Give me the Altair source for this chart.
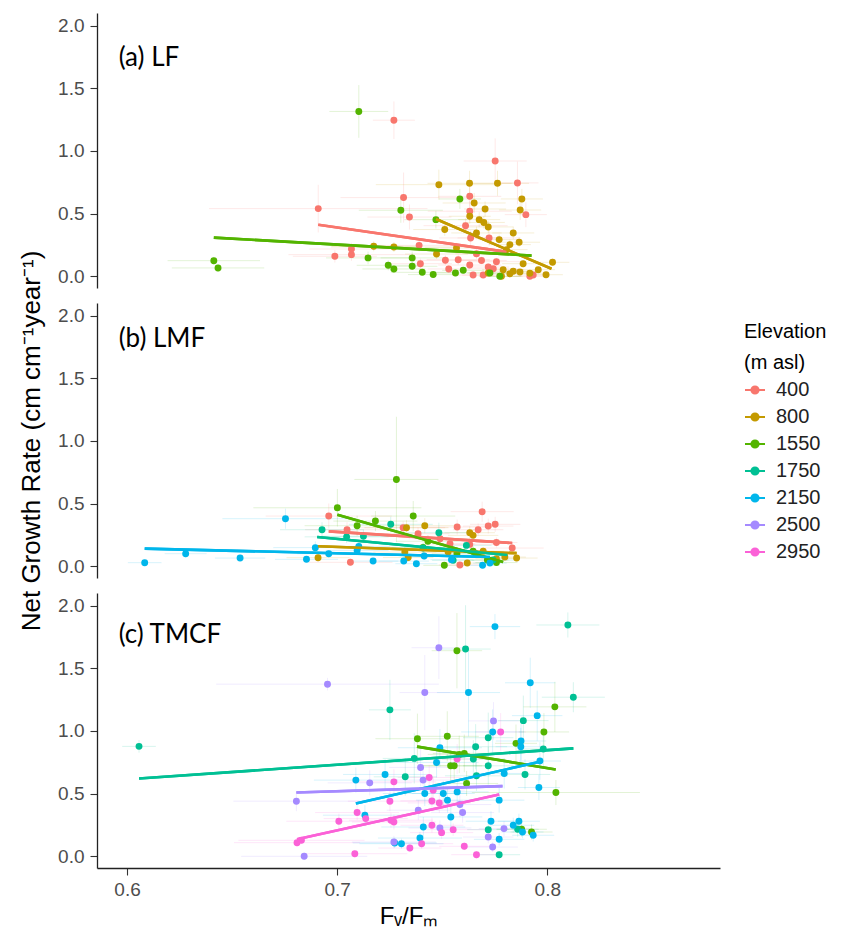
import altair as alt
import pandas as pd

ELEVATIONS = ["400", "800", "1550", "1750", "2150", "2500", "2950"]
COLORS = ["#F8766D", "#C49A00", "#53B400", "#00C094", "#00B6EB", "#A58AFF", "#FB61D7"]
TICKS_X = [0.6, 0.7, 0.8]
TICKS_Y = [0.0, 0.5, 1.0, 1.5, 2.0]
PANEL_IDS = ["a", "b", "c"]
PANEL_LABELS = ["(a) LF", "(b) LMF", "(c) TMCF"]
LABEL_X = 0.596
LABEL_Y = [1.742, 1.81, 1.765]

# ---------------- panel (a) LF ----------------
A_400_X = [0.727, 0.7752, 0.7858, 0.691, 0.7316, 0.7344, 0.7631, 0.7631, 0.7611, 0.7898, 0.7635, 0.7723, 0.6989, 0.7068, 0.7068, 0.739, 0.7396, 0.7515, 0.7531, 0.7576, 0.7663, 0.7687, 0.7719, 0.7743, 0.7631, 0.7647, 0.7695, 0.7758, 0.7917, 0.7933]
A_400_Y = [1.245, 0.92, 0.745, 0.54, 0.628, 0.473, 0.638, 0.519, 0.404, 0.492, 0.306, 0.306, 0.16, 0.218, 0.173, 0.247, 0.101, 0.128, 0.059, 0.133, 0.18, 0.127, 0.074, 0.06, 0.09, 0.01, 0.01, 0.117, 0.0, 0.01]
A_400_XERR = [0.01, 0.015, 0.01, 0.052, 0.03, 0.02, 0.015, 0.02, 0.02, 0.01, 0.015, 0.015, 0.02, 0.02, 0.03, 0.02, 0.015, 0.015, 0.01, 0.015, 0.01, 0.012, 0.01, 0.012, 0.015, 0.01, 0.01, 0.012, 0.008, 0.008]
A_400_YERR = [0.15, 0.18, 0.17, 0.19, 0.2, 0.1, 0.08, 0.08, 0.06, 0.1, 0.06, 0.06, 0.05, 0.05, 0.05, 0.05, 0.04, 0.04, 0.03, 0.04, 0.04, 0.03, 0.03, 0.02, 0.03, 0.02, 0.02, 0.03, 0.02, 0.02]

A_800_X = [0.7484, 0.763, 0.7763, 0.7879, 0.7871, 0.7652, 0.7704, 0.7631, 0.7676, 0.7698, 0.7719, 0.7512, 0.7838, 0.7663, 0.7771, 0.7866, 0.7822, 0.7473, 0.7568, 0.7174, 0.727, 0.7806, 0.8025, 0.7885, 0.7957, 0.7994, 0.7719, 0.779, 0.7838, 0.787, 0.7917, 0.7782, 0.7822]
A_800_Y = [0.731, 0.742, 0.742, 0.617, 0.529, 0.585, 0.537, 0.479, 0.452, 0.43, 0.394, 0.373, 0.346, 0.346, 0.293, 0.272, 0.253, 0.178, 0.226, 0.24, 0.234, 0.213, 0.112, 0.101, 0.053, 0.013, 0.027, 0.053, 0.04, 0.035, 0.025, 0.0, 0.02]
A_800_XERR = [0.03, 0.02, 0.015, 0.01, 0.01, 0.015, 0.01, 0.01, 0.01, 0.01, 0.012, 0.015, 0.01, 0.012, 0.01, 0.01, 0.01, 0.015, 0.015, 0.02, 0.03, 0.01, 0.008, 0.01, 0.008, 0.008, 0.01, 0.01, 0.01, 0.01, 0.008, 0.01, 0.01]
A_800_YERR = [0.12, 0.1, 0.1, 0.08, 0.08, 0.08, 0.06, 0.06, 0.06, 0.05, 0.05, 0.05, 0.05, 0.05, 0.04, 0.04, 0.04, 0.04, 0.04, 0.04, 0.04, 0.03, 0.03, 0.03, 0.02, 0.02, 0.02, 0.02, 0.02, 0.02, 0.02, 0.02, 0.02]

A_1550_X = [0.7103, 0.6413, 0.6433, 0.7303, 0.7584, 0.747, 0.7147, 0.7243, 0.727, 0.7357, 0.7357, 0.7405, 0.7457, 0.7563, 0.76, 0.7727, 0.7774]
A_1550_Y = [1.315, 0.125, 0.067, 0.527, 0.617, 0.452, 0.147, 0.088, 0.059, 0.147, 0.08, 0.032, 0.014, 0.027, 0.048, 0.027, 0.0]
A_1550_XERR = [0.014, 0.022, 0.022, 0.02, 0.01, 0.015, 0.02, 0.015, 0.015, 0.015, 0.012, 0.015, 0.012, 0.01, 0.01, 0.01, 0.01]
A_1550_YERR = [0.21, 0.03, 0.03, 0.1, 0.08, 0.07, 0.05, 0.04, 0.03, 0.05, 0.03, 0.02, 0.02, 0.02, 0.02, 0.02, 0.02]

# ---------------- panel (b) LMF ----------------
B_400_X = [0.696, 0.769, 0.7752, 0.7719, 0.7571, 0.7671, 0.7047, 0.7063, 0.7584, 0.7833, 0.7314, 0.7385, 0.749, 0.7537, 0.7631, 0.7758]
B_400_Y = [0.401, 0.436, 0.335, 0.321, 0.313, 0.292, 0.292, 0.032, 0.011, 0.146, 0.308, 0.26, 0.22, 0.18, 0.175, 0.19]
B_400_XERR = [0.03, 0.015, 0.012, 0.012, 0.015, 0.012, 0.02, 0.02, 0.01, 0.015, 0.02, 0.015, 0.015, 0.012, 0.012, 0.01]
B_400_YERR = [0.1, 0.08, 0.06, 0.06, 0.06, 0.05, 0.06, 0.03, 0.02, 0.04, 0.05, 0.05, 0.04, 0.04, 0.04, 0.04]

B_800_X = [0.6909, 0.733, 0.7417, 0.7631, 0.7647, 0.7322, 0.7338, 0.7619, 0.7758, 0.7798, 0.7854, 0.7528, 0.7695]
B_800_Y = [0.069, 0.308, 0.324, 0.268, 0.247, 0.114, 0.07, 0.026, 0.061, 0.074, 0.066, 0.114, 0.12]
B_800_XERR = [0.015, 0.02, 0.015, 0.012, 0.012, 0.015, 0.012, 0.01, 0.01, 0.01, 0.01, 0.012, 0.01]
B_800_YERR = [0.03, 0.06, 0.06, 0.05, 0.05, 0.04, 0.03, 0.02, 0.02, 0.02, 0.02, 0.03, 0.03]

B_1550_X = [0.7282, 0.7001, 0.7362, 0.7182, 0.7095, 0.751, 0.7432, 0.7647, 0.7715, 0.7758, 0.7409, 0.757]
B_1550_Y = [0.693, 0.467, 0.401, 0.361, 0.324, 0.008, 0.2, 0.12, 0.05, 0.03, 0.15, 0.1]
B_1550_XERR = [0.02, 0.04, 0.02, 0.02, 0.025, 0.01, 0.015, 0.01, 0.01, 0.01, 0.015, 0.012]
B_1550_YERR = [0.5, 0.15, 0.12, 0.08, 0.08, 0.02, 0.05, 0.04, 0.03, 0.02, 0.04, 0.03]

B_1750_X = [0.6928, 0.7255, 0.7484, 0.7409, 0.7615, 0.7552, 0.7742, 0.7045, 0.7125, 0.766]
B_1750_Y = [0.292, 0.335, 0.268, 0.146, 0.167, 0.048, 0.05, 0.235, 0.24, 0.1]
B_1750_XERR = [0.02, 0.02, 0.015, 0.015, 0.012, 0.01, 0.01, 0.02, 0.02, 0.01]
B_1750_YERR = [0.06, 0.06, 0.08, 0.04, 0.04, 0.02, 0.02, 0.05, 0.05, 0.03]

B_2150_X = [0.6084, 0.6279, 0.6538, 0.6754, 0.6854, 0.6896, 0.696, 0.7103, 0.7095, 0.7171, 0.7317, 0.7377, 0.7414, 0.7544, 0.7692, 0.7727]
B_2150_Y = [0.029, 0.101, 0.066, 0.38, 0.056, 0.149, 0.101, 0.159, 0.127, 0.042, 0.042, 0.021, 0.082, 0.053, 0.008, 0.026]
B_2150_XERR = [0.008, 0.01, 0.012, 0.03, 0.015, 0.02, 0.015, 0.015, 0.015, 0.012, 0.012, 0.01, 0.01, 0.01, 0.008, 0.008]
B_2150_YERR = [0.02, 0.03, 0.02, 0.08, 0.02, 0.05, 0.03, 0.04, 0.04, 0.02, 0.02, 0.02, 0.03, 0.02, 0.02, 0.02]

# ---------------- panel (c) TMCF ----------------
C_1550_X = [0.757, 0.8036, 0.7382, 0.7524, 0.7984, 0.7851, 0.8041, 0.7616, 0.7581, 0.7605, 0.754, 0.7557, 0.7878, 0.7925]
C_1550_Y = [1.64, 1.192, 0.938, 0.957, 0.992, 0.901, 0.509, 0.581, 0.813, 0.821, 0.722, 0.722, 0.216, 0.194]
C_1550_XERR = [0.012, 0.015, 0.02, 0.015, 0.012, 0.01, 0.04, 0.015, 0.015, 0.015, 0.015, 0.015, 0.012, 0.01]
C_1550_YERR = [0.3, 0.2, 0.2, 0.2, 0.15, 0.15, 0.1, 0.1, 0.15, 0.15, 0.12, 0.12, 0.06, 0.06]

C_1750_X = [0.6057, 0.7251, 0.8098, 0.8124, 0.7611, 0.7886, 0.7719, 0.7659, 0.7981, 0.7367, 0.7648, 0.7719, 0.7894, 0.7663, 0.7324, 0.7719, 0.7859, 0.7771]
C_1750_Y = [0.877, 1.168, 1.845, 1.269, 1.653, 1.082, 0.946, 0.874, 0.856, 0.781, 0.776, 0.722, 0.653, 0.642, 0.634, 0.213, 0.216, 0.013]
C_1750_XERR = [0.008, 0.01, 0.015, 0.015, 0.012, 0.012, 0.012, 0.015, 0.012, 0.015, 0.015, 0.012, 0.012, 0.015, 0.015, 0.01, 0.01, 0.01]
C_1750_YERR = [0.05, 0.24, 0.1, 0.12, 0.35, 0.2, 0.2, 0.18, 0.15, 0.2, 0.15, 0.15, 0.12, 0.12, 0.15, 0.06, 0.06, 0.03]

C_2150_X = [0.7751, 0.7625, 0.7919, 0.7952, 0.774, 0.7489, 0.7875, 0.7874, 0.7473, 0.7965, 0.7795, 0.7089, 0.7228, 0.7417, 0.7505, 0.7571, 0.7525, 0.7541, 0.7771, 0.796, 0.7132, 0.741, 0.7732, 0.7838, 0.7865, 0.7882, 0.7933, 0.7771, 0.7394, 0.7306, 0.7274]
C_2150_Y = [1.832, 1.306, 1.384, 1.122, 0.992, 0.866, 0.92, 0.874, 0.749, 0.76, 0.661, 0.608, 0.653, 0.501, 0.501, 0.514, 0.448, 0.314, 0.448, 0.549, 0.328, 0.234, 0.28, 0.248, 0.28, 0.194, 0.168, 0.136, 0.146, 0.101, 0.107]
C_2150_XERR = [0.012, 0.015, 0.012, 0.012, 0.015, 0.02, 0.012, 0.012, 0.02, 0.01, 0.012, 0.02, 0.02, 0.02, 0.015, 0.015, 0.015, 0.015, 0.012, 0.01, 0.02, 0.02, 0.012, 0.01, 0.01, 0.01, 0.01, 0.012, 0.02, 0.02, 0.02]
C_2150_YERR = [0.1, 0.35, 0.2, 0.2, 0.18, 0.15, 0.15, 0.15, 0.12, 0.15, 0.12, 0.1, 0.12, 0.1, 0.1, 0.1, 0.1, 0.08, 0.1, 0.1, 0.08, 0.08, 0.08, 0.06, 0.06, 0.05, 0.05, 0.05, 0.05, 0.04, 0.04]

C_2500_X = [0.7484, 0.6954, 0.7417, 0.7744, 0.7397, 0.7409, 0.7155, 0.6806, 0.7584, 0.7597, 0.7386, 0.7489, 0.7794, 0.7719, 0.727, 0.774, 0.6843]
C_2500_Y = [1.664, 1.373, 1.306, 1.08, 0.709, 0.608, 0.586, 0.44, 0.413, 0.349, 0.368, 0.226, 0.221, 0.154, 0.114, 0.074, 0.0]
C_2500_XERR = [0.013, 0.053, 0.012, 0.012, 0.015, 0.015, 0.02, 0.03, 0.015, 0.015, 0.015, 0.015, 0.012, 0.012, 0.02, 0.012, 0.03]
C_2500_YERR = [0.25, 0.05, 0.3, 0.15, 0.15, 0.12, 0.1, 0.08, 0.1, 0.08, 0.08, 0.06, 0.06, 0.05, 0.05, 0.04, 0.03]

C_2950_X = [0.7778, 0.7571, 0.727, 0.7438, 0.7451, 0.7486, 0.7251, 0.7095, 0.7136, 0.7008, 0.7256, 0.727, 0.7451, 0.7497, 0.7552, 0.7346, 0.7402, 0.7605, 0.7663, 0.6809, 0.683, 0.7084, 0.7457]
C_2950_Y = [0.992, 0.776, 0.594, 0.629, 0.442, 0.426, 0.44, 0.349, 0.301, 0.28, 0.288, 0.274, 0.248, 0.189, 0.213, 0.066, 0.101, 0.08, 0.013, 0.109, 0.128, 0.021, 0.528]
C_2950_XERR = [0.012, 0.015, 0.02, 0.015, 0.015, 0.015, 0.02, 0.02, 0.02, 0.025, 0.02, 0.02, 0.015, 0.015, 0.015, 0.015, 0.015, 0.012, 0.012, 0.03, 0.03, 0.025, 0.015]
C_2950_YERR = [0.15, 0.12, 0.1, 0.1, 0.08, 0.08, 0.08, 0.06, 0.06, 0.06, 0.06, 0.06, 0.06, 0.05, 0.05, 0.03, 0.04, 0.03, 0.03, 0.03, 0.03, 0.03, 0.1]

# ---------------- fitted lines (end points) ----------------
FIT_PANEL = ["a", "a", "a", "b", "b", "b", "b", "b", "c", "c", "c", "c", "c"]
FIT_ELEV = ["400", "800", "1550", "400", "800", "1550", "1750", "2150", "1550", "1750", "2150", "2500", "2950"]
FIT_X0 = [0.691, 0.747, 0.6413, 0.696, 0.6909, 0.7001, 0.6905, 0.6084, 0.738, 0.6057, 0.7089, 0.6806, 0.6809]
FIT_X1 = [0.7806, 0.802, 0.7925, 0.7833, 0.7854, 0.779, 0.781, 0.7727, 0.804, 0.8124, 0.7965, 0.7787, 0.7771]
FIT_Y0 = [0.412, 0.457, 0.309, 0.279, 0.16, 0.412, 0.234, 0.141, 0.875, 0.621, 0.421, 0.509, 0.136]
FIT_Y1 = [0.195, 0.06, 0.165, 0.186, 0.105, 0.035, 0.09, 0.074, 0.693, 0.861, 0.755, 0.56, 0.493]

GROUPS = [
    ("a", "400", A_400_X, A_400_Y, A_400_XERR, A_400_YERR),
    ("a", "800", A_800_X, A_800_Y, A_800_XERR, A_800_YERR),
    ("a", "1550", A_1550_X, A_1550_Y, A_1550_XERR, A_1550_YERR),
    ("b", "400", B_400_X, B_400_Y, B_400_XERR, B_400_YERR),
    ("b", "800", B_800_X, B_800_Y, B_800_XERR, B_800_YERR),
    ("b", "1550", B_1550_X, B_1550_Y, B_1550_XERR, B_1550_YERR),
    ("b", "1750", B_1750_X, B_1750_Y, B_1750_XERR, B_1750_YERR),
    ("b", "2150", B_2150_X, B_2150_Y, B_2150_XERR, B_2150_YERR),
    ("c", "1550", C_1550_X, C_1550_Y, C_1550_XERR, C_1550_YERR),
    ("c", "1750", C_1750_X, C_1750_Y, C_1750_XERR, C_1750_YERR),
    ("c", "2150", C_2150_X, C_2150_Y, C_2150_XERR, C_2150_YERR),
    ("c", "2500", C_2500_X, C_2500_Y, C_2500_XERR, C_2500_YERR),
    ("c", "2950", C_2950_X, C_2950_Y, C_2950_XERR, C_2950_YERR),
]

rows = []
for panel_id, elev, xs, ys, xes, yes in GROUPS:
    for x, y, xe, ye in zip(xs, ys, xes, yes):
        rows.append({"panel": panel_id, "elev": elev, "x": x, "y": y, "xerr": xe, "yerr": ye})
points = pd.DataFrame(rows)

fit_rows = []
for i in range(len(FIT_PANEL)):
    fit_rows.append({"panel": FIT_PANEL[i], "elev": FIT_ELEV[i], "x": FIT_X0[i], "y": FIT_Y0[i]})
    fit_rows.append({"panel": FIT_PANEL[i], "elev": FIT_ELEV[i], "x": FIT_X1[i], "y": FIT_Y1[i]})
fits = pd.DataFrame(fit_rows)

X_DOMAIN = [0.5857, 0.8822]
Y_DOMAIN = [-0.093, 2.1]
FONT = "Liberation Sans"
# a short line with a solid dot in the middle (built from concentric rings)
LEGEND_SYMBOL = (
    "M-1,0L1,0"
    "M-0.36,0A0.36,0.36,0,1,1,0.36,0A0.36,0.36,0,1,1,-0.36,0Z"
    "M-0.24,0A0.24,0.24,0,1,1,0.24,0A0.24,0.24,0,1,1,-0.24,0Z"
    "M-0.12,0A0.12,0.12,0,1,1,0.12,0A0.12,0.12,0,1,1,-0.12,0Z"
)

color = alt.Color(
    "elev:N",
    scale=alt.Scale(domain=ELEVATIONS, range=COLORS),
    legend=alt.Legend(
        title=["Elevation", "(m asl)"],
        orient="none",
        legendX=647,
        legendY=309,
        symbolType=LEGEND_SYMBOL,
        symbolSize=400,
        symbolStrokeWidth=2,
        symbolOpacity=1,
    ),
)

Y_TITLE = "Net Growth Rate (cm cm\u207b\u00b9year\u207b\u00b9)"
X_TITLE = "F\u1d65/F\u2098"


def make_panel(idx):
    pid = PANEL_IDS[idx]
    show_x = pid == "c"
    show_ytitle = pid == "b"
    pts = points[points.panel == pid]
    fit = fits[fits.panel == pid]
    lab = pd.DataFrame({"x": [LABEL_X], "y": [LABEL_Y[idx]], "text": [PANEL_LABELS[idx]]})

    xscale = alt.Scale(domain=X_DOMAIN, nice=False, zero=False)
    yscale = alt.Scale(domain=Y_DOMAIN, nice=False, zero=False)
    if show_x:
        xaxis = alt.Axis(values=TICKS_X, format=".1f", title=X_TITLE, grid=False)
    else:
        xaxis = None
    yaxis = alt.Axis(values=TICKS_Y, format=".1f", grid=False,
                     title=Y_TITLE if show_ytitle else "")

    def X(field):
        return alt.X(field, type="quantitative", scale=xscale, axis=xaxis)

    def Y(field):
        return alt.Y(field, type="quantitative", scale=yscale, axis=yaxis)

    base = alt.Chart(pts)
    lines = alt.Chart(fit).mark_line(strokeWidth=2.6).encode(
        x=X("x"), y=Y("y"), color=color, detail="elev:N"
    )
    hbars = base.transform_calculate(
        xlo="datum.x - datum.xerr", xhi="datum.x + datum.xerr"
    ).mark_rule(opacity=0.16, strokeWidth=1, clip=True).encode(
        x=X("xlo"), x2="xhi:Q", y=Y("y"), color=color
    )
    vbars = base.transform_calculate(
        ylo="datum.y - datum.yerr", yhi="datum.y + datum.yerr"
    ).mark_rule(opacity=0.16, strokeWidth=1, clip=True).encode(
        x=X("x"), y=Y("ylo"), y2="yhi:Q", color=color
    )
    dots = base.mark_circle(size=48, opacity=1).encode(
        x=X("x"), y=Y("y"), color=color
    )
    label = alt.Chart(lab).mark_text(
        align="left", baseline="middle", font="Lato", fontSize=26, color="black"
    ).encode(x=X("x"), y=Y("y"), text="text:N")

    # fitted lines are listed first (so the legend takes the line style) and
    # drawn again on top of the points, as in the original figure
    return alt.layer(lines, hbars, vbars, dots, lines, label).properties(width=623, height=275)


chart = alt.vconcat(
    make_panel(0), make_panel(1), make_panel(2), spacing=15, bounds="flush"
).properties(
    padding={"left": 18, "top": 13, "right": 5, "bottom": 5}
).configure_view(
    stroke=None
).configure_axis(
    labelFont=FONT,
    labelFontSize=19,
    labelColor="#4d4d4d",
    titleFont=FONT,
    titleFontSize=26,
    titleFontWeight="normal",
    titleColor="black",
    domainColor="#222222",
    domainWidth=1.3,
    tickColor="#333333",
    tickWidth=1.1,
    tickSize=7,
    labelPadding=6,
).configure_axisY(
    titlePadding=13,
).configure_axisX(
    titlePadding=5,
    titleFontSize=24,
    labelPadding=5,
).configure_legend(
    titleFont=FONT,
    titleFontSize=20,
    titleFontWeight="normal",
    titleColor="black",
    labelFont=FONT,
    labelFontSize=20,
    labelColor="#222222",
    rowPadding=6,
    titlePadding=6,
    titleLineHeight=31,
    labelOffset=10,
)

chart.save("out.html", embed_options={"renderer": "svg", "actions": False})
